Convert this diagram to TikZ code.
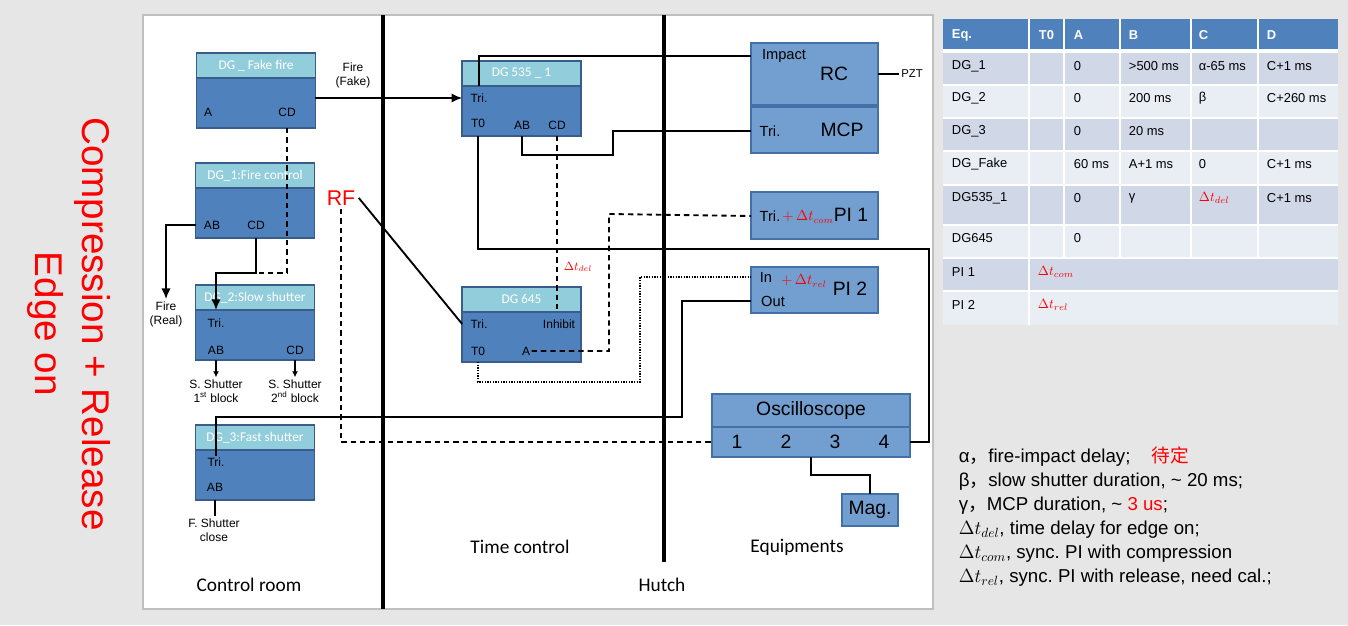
\documentclass[tikz,border=0pt]{standalone}
\usepackage{fontspec}
\setmainfont{Liberation Sans}
\newfontfamily\carl{Carlito}
\newfontfamily\cjk{Noto Sans CJK SC}
\usetikzlibrary{arrows.meta}
\usetikzlibrary{positioning}
\definecolor{bgc}{RGB}{230,230,230}
\definecolor{panel}{RGB}{191,191,191}
\definecolor{dghead}{RGB}{146,205,220}
\definecolor{dgbody}{RGB}{79,129,189}
\definecolor{dgline}{RGB}{56,93,138}
\definecolor{eqfill}{RGB}{114,159,207}
\definecolor{eqline}{RGB}{65,113,166}
\definecolor{thd}{RGB}{79,129,189}
\definecolor{tdk}{RGB}{208,216,232}
\definecolor{tlt}{RGB}{233,237,244}
\tikzset{
  hd/.style={rectangle, draw=dgline, fill=dghead, line width=1.2pt, minimum width=89pt, minimum height=18.75pt, inner sep=0pt, outer sep=0pt, text=white, font=\carl\fontsize{10}{11}\selectfont},
  bd/.style={rectangle, draw=dgline, fill=dgbody, line width=1.2pt, minimum width=89pt, minimum height=37.5pt, inner sep=0pt, outer sep=0pt},
  lb/.style={inner sep=0.5pt, font=\fontsize{9}{10}\selectfont},
  eq/.style={rectangle, draw=eqline, fill=eqfill, line width=0.8pt, minimum width=95.25pt, inner sep=0pt, outer sep=0pt},
  big/.style={inner sep=0pt, font=\fontsize{14.5}{16}\selectfont},
  med/.style={inner sep=0.5pt, font=\fontsize{11}{12}\selectfont},
  sm/.style={inner sep=1pt, align=center, font=\fontsize{9}{10.5}\selectfont},
  dl/.style={inner sep=0pt, text=red, font=\fontsize{10.5}{12}\selectfont},
  dsh/.style={dash pattern=on 4pt off 3pt},
  dotline/.style={line width=1pt, dash pattern=on 1pt off 1pt},
  wall/.style={line width=2.4pt},
  room/.style={inner sep=0pt, font=\carl\fontsize{14.5}{16}\selectfont},
  shut/.style={-{Latex[length=4.5pt,width=4.5pt]}, line width=1pt},
  cell/.style={anchor=west, inner sep=0pt, font=\fontsize{9.7}{11}\selectfont},
  headcell/.style={cell, text=white, font=\bfseries\fontsize{9.7}{11}\selectfont}
}
\begin{document}
\begin{tikzpicture}[x=0.75pt, y=-0.75pt, line width=1.4pt, >={Latex[length=8pt,width=7pt]}]
\useasboundingbox (0,0) rectangle (1348,625);
\fill[bgc] (0,0) rectangle (1348,625);
\filldraw[fill=white, draw=panel, line width=0.8pt] (143,15) rectangle (933,609);
\node[rotate=-90, text=red, align=center, font=\fontsize{29}{35}\selectfont] (title) at (69,324) {Compression + Release\\Edge on};

% rooms
\draw[wall] (383,15) -- (383,609);
\draw[wall] (664,15) -- (664,562);
\node[room] (croom) at (249,585) {Control room};
\node[room] (tctl) at (520,547) {Time control};
\node[room] (equip) at (797,547) {Equipments};
\node[room] (hutch) at (662,585) {Hutch};

% control room
\node[hd] (fakeh) at (256,65.5) {DG \_ Fake fire};
\node[bd, below=0pt of fakeh] (fake) {};
\node[lb] (fakea) at (208,112) {A};
\node[lb] (fakecd) at (287,112) {CD};
\node[hd] (dg1h) at (255,175.5) {DG\_1:Fire control};
\node[bd, below=0pt of dg1h] (dg1) {};
\node[lb] (dg1ab) at (212,225) {AB};
\node[lb] (dg1cd) at (256,225) {CD};
\node[hd] (dg2h) at (255,297.5) {DG\_2:Slow shutter};
\node[bd, below=0pt of dg2h] (dg2) {};
\node[lb] (dg2tri) at (216,323) {Tri.};
\node[lb] (dg2ab) at (216,350) {AB};
\node[lb] (dg2cd) at (295,350) {CD};
\node[hd] (dg3h) at (255,437.5) {DG\_3:Fast shutter};
\node[bd, below=0pt of dg3h] (dg3) {};
\node[lb] (dg3tri) at (216,462) {Tri.};
\node[lb] (dg3ab) at (215,487) {AB};
\node[sm] (firefake) at (353,75) {Fire\\(Fake)};
\node[sm] (firereal) at (166,314) {Fire\\(Real)};
\node[sm] (sh1) at (216,391) {S. Shutter\\1\textsuperscript{st} block};
\node[sm] (sh2) at (295,391) {S. Shutter\\2\textsuperscript{nd} block};
\node[sm] (fsh) at (214,530) {F. Shutter\\close};
\node[inner sep=2pt, text=red, font=\fontsize{16}{18}\selectfont] (rf) at (341,198) {RF};

% time control
\node[hd] (d535h) at (521.5,73.5) {DG 535 \_ 1};
\node[bd, below=0pt of d535h] (d535) {};
\node[lb] (d535tri) at (479,98) {Tri.};
\node[lb] (d535t0) at (478,123) {T0};
\node[lb] (d535ab) at (522,125) {AB};
\node[lb] (d535cd) at (557,125) {CD};
\node[hd] (d645h) at (521.5,299.5) {DG 645};
\node[bd, below=0pt of d645h] (d645) {};
\node[lb] (d645tri) at (479,324) {Tri.};
\node[lb] (d645inh) at (559,324) {Inhibit};
\node[lb] (d645t0) at (478,351) {T0};
\node[lb] (d645a) at (526,351) {A};
\node[dl, font=\fontsize{9}{10}\selectfont] (tdel) at (578,267) {$\Delta t_{del}$};

% equipments
\node[eq, minimum height=46.5pt] (rc) at (814.5,74) {};
\node[eq, minimum height=34.5pt, below=1.5pt of rc] (mcp) {};
\node[eq, minimum height=35.25pt] (pi1) at (814.5,215.5) {};
\node[eq, minimum height=34.5pt] (pi2) at (814.5,290) {};
\node[med] (rcimp) at (784,56) {Impact};
\node[big] (rct) at (834,74) {RC};
\node[med] (mcptri) at (770,131) {Tri.};
\node[big] (mcpt) at (842,130) {MCP};
\node[med] (pi1tri) at (770,216) {Tri.};
\node[dl] (tcom) at (808,217) {$+\,\Delta t_{com}$};
\node[big] (pi1t) at (851,215) {PI 1};
\node[med] (pi2in) at (766,277) {In};
\node[med] (pi2out) at (773,301) {Out};
\node[dl] (trel) at (804,281) {$+\,\Delta t_{rel}$};
\node[big] (pi2t) at (850,289) {PI 2};
\node[eq, minimum width=148.5pt, minimum height=24.75pt, font=\fontsize{14.5}{16}\selectfont] (osch) at (811,410.5) {Oscilloscope};
\node[eq, minimum width=148.5pt, minimum height=22.5pt, below=0pt of osch] (osc) {};
\foreach \n/\xx in {1/737,2/786,3/835,4/884}
  \node[big] (osc\n) at (\xx,442) {\n};
\node[eq, minimum width=42pt, minimum height=24pt, font=\fontsize{14.5}{16}\selectfont] (mag) at (870,510) {Mag.};
\node[inner sep=1pt, font=\fontsize{8.5}{10}\selectfont] (pzt) at (912,74) {PZT};

% connections
\coordinate (j1) at (256,273);
\coordinate (j2) at (682,417);
\coordinate (j3) at (929,249);
\coordinate (j4) at (613,155);
\coordinate (j5) at (609,214);
\coordinate (j6) at (640,382);
\draw[->] (d535tri -| fake.east) -- (d535tri -| d535.west);
\draw[dsh] (fakecd |- fake.south) |- (j1);
\draw[->] (dg1cd |- dg1.south) -- (j1) -| (dg2tri |- dg2.north);
\draw[->] (dg1ab -| dg1.west) -| (firereal.north);
\draw[shut] (dg2ab |- dg2.south) -- (dg2ab |- sh1.north);
\draw[shut] (dg2cd |- dg2.south) -- (dg2cd |- sh2.north);
\draw (dg3ab |- dg3.south) -- (dg3ab |- fsh.north);
\draw (pi2out -| pi2.west) -| (j2) -| (dg3tri.north);
\draw (d535tri |- d535.north) |- (rcimp -| rc.west);
\draw (d535t0 |- d535.south) |- (j3) |- (osc4 -| osc.east);
\draw (d535ab |- d535.south) |- (j4) |- (mcptri -| mcp.west);
\draw[dsh] (d535cd |- d535.south) -- (d535cd |- d645.north);
\draw[dsh] (d645a.east) -| (j5) -- (pi1tri -| pi1.west);
\draw[dotline] (d645t0 |- d645.south) |- (j6) |- (pi2in -| pi2.west);
\draw (rf.east) -- (d645tri -| d645.west);
\draw[dsh] (rf.south) |- (osc1 -| osc.west);
\draw (osc.south) -- ++(0,18) -| (mag.north);
\draw (pzt -| rc.east) -- (pzt.west);

% table
\fill[thd] (943,19) rectangle (1338,51);
\foreach \ya/\yb/\c in {51/85/tdk, 85/118/tlt, 118/151/tdk, 151/185/tlt, 185/225/tdk, 225/258/tlt, 258/291/tdk, 291/325/tlt}
  \fill[\c] (943,\ya) rectangle (1338,\yb);
\foreach \xx in {1029,1064,1120,1191,1258}
  \draw[white, line width=1.2pt] (\xx,19) -- (\xx,258);
\draw[white, line width=1.2pt] (1029,258) -- (1029,325);
\foreach \yy in {85,118,151,185,225,258,291}
  \draw[white, line width=1.2pt] (943,\yy) -- (1338,\yy);
\draw[white, line width=2.4pt] (943,51) -- (1338,51);
\foreach \xx/\tt [count=\i] in {951/Eq., 1038/T0, 1073/A, 1128/B, 1198/C, 1266/D}
  \node[headcell] (h\i) at (\xx,35) {\tt};
\foreach \xx/\yy/\tt [count=\i] in {951/66/DG\_1, 1073/66/0, 1128/66/{>500 ms}, 1198/66/{α-65 ms}, 1266/66/{C+1 ms},
    951/98/DG\_2, 1073/98/0, 1128/98/{200 ms}, 1198/98/β, 1266/98/{C+260 ms},
    951/131/DG\_3, 1073/131/0, 1128/131/{20 ms},
    951/164/DG\_Fake, 1073/164/{60 ms}, 1128/164/{A+1 ms}, 1198/164/0, 1266/164/{C+1 ms},
    951/198/DG535\_1, 1073/198/0, 1128/198/γ, 1198/198/{\textcolor{red}{$\Delta t_{del}$}}, 1266/198/{C+1 ms},
    951/238/DG645, 1073/238/0,
    951/272/{PI 1}, 1037/272/{\textcolor{red}{$\Delta t_{com}$}},
    951/305/{PI 2}, 1037/305/{\textcolor{red}{$\Delta t_{rel}$}}}
  \node[cell] (t\i) at (\xx,\yy) {\tt};

% legend
\node[anchor=west, align=left, inner sep=0pt, font=\fontsize{14}{18}\selectfont] (legend) at (958,517)
  {α{\cjk ，}fire-impact delay;\hspace{16pt}{\cjk\color{red}待定}\\
   β{\cjk ，}slow shutter duration, \textasciitilde{} 20 ms;\\
   γ{\cjk ，}MCP duration, \textasciitilde{} \textcolor{red}{3 us};\\
   $\Delta t_{del}$, time delay for edge on;\\
   $\Delta t_{com}$, sync.\ PI with compression\\
   $\Delta t_{rel}$, sync.\ PI with release, need cal.;};
\end{tikzpicture}
\end{document}
